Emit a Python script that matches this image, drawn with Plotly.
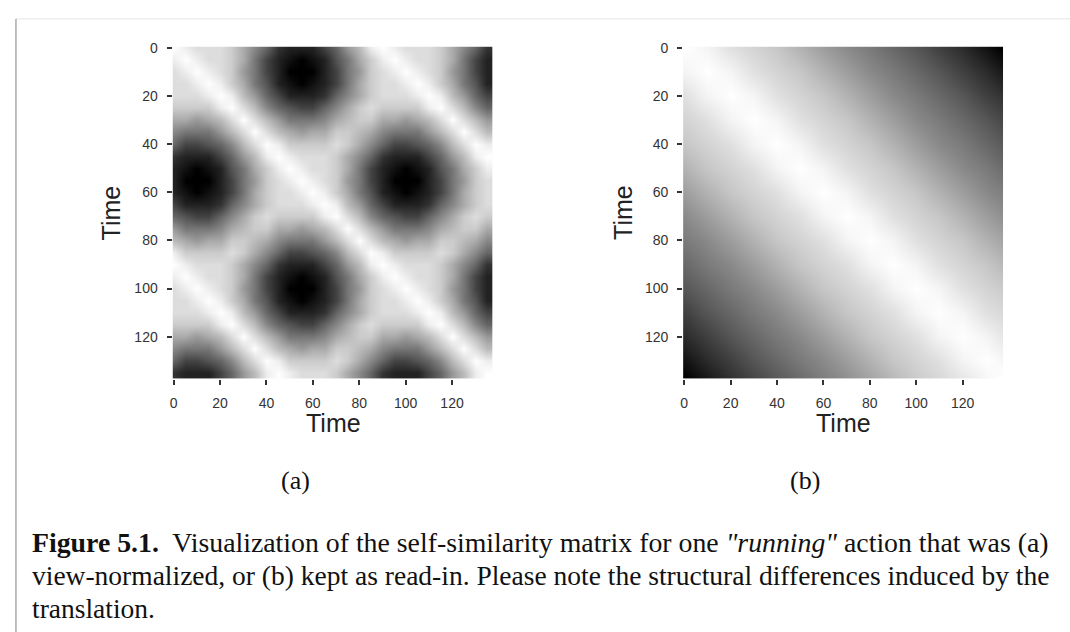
import plotly.graph_objects as go

# ---------------- data ----------------
# (a) view-normalized self-similarity matrix, sampled every 5 frames (gray level 0=black .. f=white)
TIME_A = [0, 5, 10, 15, 20, 25, 30, 35, 40, 45, 50, 55, 60, 65,
          70, 75, 80, 85, 90, 95, 100, 105, 110, 115, 120, 125, 130, 135]
SSM_A_ROWS = [
    "fedddca863222469befedddca863",
    "efeddca742101257acefeddca742",
    "defedc97420002479cdefedc9742",
    "ddefeca752101247acddefeca752",
    "dddefeb964222368acdddefeb964",
    "ccccefdb8654468acdccccefdb86",
    "aa9abdfdb97778abccaa9abdfdb9",
    "87779bdfdba9aaccba87779bdfdb",
    "644568bdfeccccdca8644568bdfe",
    "3222469befedddca863222469bef",
    "2101257acefeddca742101257ace",
    "20002479cdefedc97420002479cd",
    "2101247acddefeca752101247acd",
    "4222368acdddefeb964222368acd",
    "654468acdccccefdb8654468acdc",
    "97778abccaa9abdfdb97778abcca",
    "ba9aaccba87779bdfdba9aaccba8",
    "eccccdca8644568bdfeccccdca86",
    "fedddca863222469befedddca863",
    "efeddca742101257acefeddca742",
    "defedc97420002479cdefedc9742",
    "ddefeca752101247acddefeca752",
    "dddefeb964222368acdddefeb964",
    "ccccefdb8654468acdccccefdb86",
    "aa9abdfdb97778abccaa9abdfdb9",
    "87779bdfdba9aaccba87779bdfdb",
    "644568bdfeccccdca8644568bdfe",
    "3222469befedddca863222469bef",
]

# (b) read-in (not normalized) self-similarity matrix, sampled every 10 frames (brightness %)
TIME_B = [0, 10, 20, 30, 40, 50, 60, 70, 80, 90, 100, 110, 120, 130, 137]
SSM_B = [
    [100, 96, 88, 83, 78, 70, 62, 54, 48, 41, 34, 25, 17, 7, 0],
    [96, 100, 96, 88, 83, 78, 70, 62, 54, 48, 41, 34, 25, 17, 10],
    [88, 96, 100, 96, 88, 83, 78, 70, 62, 54, 48, 41, 34, 25, 20],
    [83, 88, 96, 100, 96, 88, 83, 78, 70, 62, 54, 48, 41, 34, 28],
    [78, 83, 88, 96, 100, 96, 88, 83, 78, 70, 62, 54, 48, 41, 36],
    [70, 78, 83, 88, 96, 100, 96, 88, 83, 78, 70, 62, 54, 48, 43],
    [62, 70, 78, 83, 88, 96, 100, 96, 88, 83, 78, 70, 62, 54, 50],
    [54, 62, 70, 78, 83, 88, 96, 100, 96, 88, 83, 78, 70, 62, 57],
    [48, 54, 62, 70, 78, 83, 88, 96, 100, 96, 88, 83, 78, 70, 65],
    [41, 48, 54, 62, 70, 78, 83, 88, 96, 100, 96, 88, 83, 78, 73],
    [34, 41, 48, 54, 62, 70, 78, 83, 88, 96, 100, 96, 88, 83, 80],
    [25, 34, 41, 48, 54, 62, 70, 78, 83, 88, 96, 100, 96, 88, 85],
    [17, 25, 34, 41, 48, 54, 62, 70, 78, 83, 88, 96, 100, 96, 91],
    [7, 17, 25, 34, 41, 48, 54, 62, 70, 78, 83, 88, 96, 100, 97],
    [0, 10, 20, 28, 36, 43, 50, 57, 65, 73, 80, 85, 91, 97, 100],
]

TICKS = [0, 20, 40, 60, 80, 100, 120]
AXIS_TITLE = "Time"
SUB_LABELS = ["(a)", "(b)"]
CAPTION_LINES = [
    "<b>Figure 5.1.</b>\u00a0 Visualization of the self-similarity matrix for one <i>\"running\"</i> action that was (a)",
    "view-normalized, or (b) kept as read-in. Please note the structural differences induced by the",
    "translation.",
]

# ---------------- figure ----------------
W, H = 1070, 632
GRAY = [[0, "rgb(0,0,0)"], [1, "rgb(255,255,255)"]]
z_a = [[int(c, 16) for c in row] for row in SSM_A_ROWS]


def px(x):
    return x / W


def py(y):
    return 1 - y / H


fig = go.Figure()
fig.add_trace(go.Heatmap(x=TIME_A, y=TIME_A, z=z_a, zmin=0, zmax=15, colorscale=GRAY,
                         showscale=False, zsmooth="best", hoverinfo="skip",
                         xaxis="x", yaxis="y"))
fig.add_trace(go.Heatmap(x=TIME_B, y=TIME_B, z=SSM_B, zmin=0, zmax=100, colorscale=GRAY,
                         showscale=False, zsmooth="best", hoverinfo="skip",
                         xaxis="x2", yaxis="y2"))

tickfont = dict(family="Liberation Sans, Arial, sans-serif", size=14, color="#333333")
common = dict(range=[-0.5, 137.5], tickvals=TICKS, ticks="outside", ticklen=5, tickwidth=1.6,
              tickcolor="#333333", showgrid=False, zeroline=False, showline=False,
              tickfont=tickfont, ticklabelstandoff=6)
ydom = [py(376), py(40)]

fig.update_layout(
    width=W, height=H, margin=dict(l=0, r=0, t=0, b=0),
    paper_bgcolor="white", plot_bgcolor="white", showlegend=False,
    xaxis=dict(domain=[px(170), px(491)], anchor="y", **common),
    yaxis=dict(domain=ydom, anchor="x", autorange=False, **{**common, "range": [137.5, -0.5]}),
    xaxis2=dict(domain=[px(682), px(1003)], anchor="y2", **common),
    yaxis2=dict(domain=ydom, anchor="x2", autorange=False, **{**common, "range": [137.5, -0.5]}),
)

ann = []
title_font = dict(family="Liberation Sans, Arial, sans-serif", size=25, color="#222222")
for xc, yt in [(331, 108), (843, 621)]:
    ann.append(dict(x=px(xc), y=py(421), xref="paper", yref="paper", text=AXIS_TITLE,
                    showarrow=False, xanchor="center", yanchor="middle", font=title_font))
    ann.append(dict(x=px(yt), y=py(208), xref="paper", yref="paper", text=AXIS_TITLE,
                    showarrow=False, xanchor="center", yanchor="middle", textangle=-90,
                    font=title_font))

serif = dict(family="Liberation Serif, Times New Roman, serif", size=26, color="#111111")
for xc, lab in zip([293, 804], SUB_LABELS):
    ann.append(dict(x=px(xc), y=py(479), xref="paper", yref="paper", text=lab,
                    showarrow=False, xanchor="center", yanchor="middle", font=serif))

for yc, line, fs in zip([541, 575, 608], CAPTION_LINES, [27.8, 27.5, 27.5]):
    ann.append(dict(x=px(27), y=py(yc), xref="paper", yref="paper", text=line,
                    showarrow=False, xanchor="left", yanchor="middle",
                    font=dict(family="Liberation Serif, Times New Roman, serif", size=fs,
                              color="#111111")))

fig.update_layout(annotations=ann)

fig.add_shape(type="line", xref="paper", yref="paper", x0=px(13), x1=1, y0=py(12), y1=py(12),
              line=dict(color="#e6e6e6", width=1))
fig.add_shape(type="line", xref="paper", yref="paper", x0=px(13), x1=px(13), y0=0, y1=py(12),
              line=dict(color="#808080", width=1))

fig.write_html("out.html")
